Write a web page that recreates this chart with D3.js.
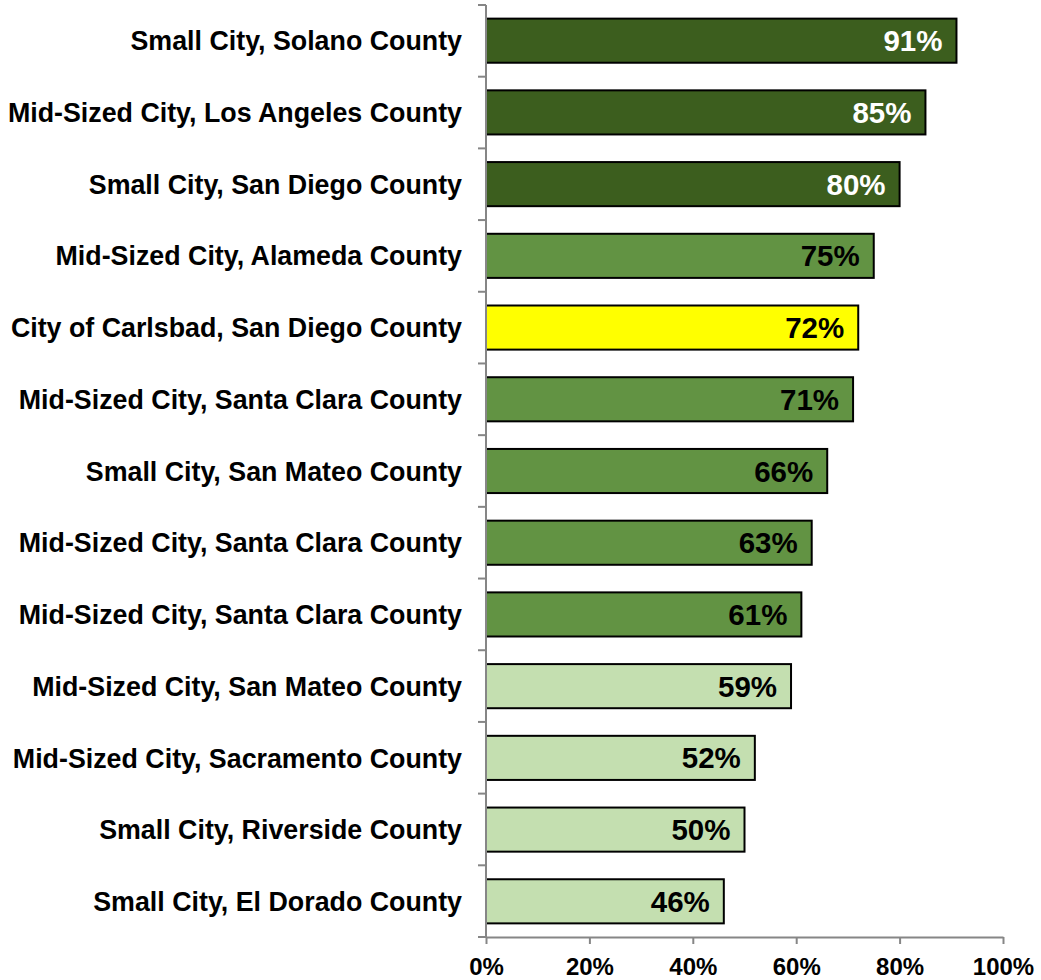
<!DOCTYPE html>
<html>
<head>
<meta charset="utf-8">
<script src="https://cdn.jsdelivr.net/npm/d3@7"></script>
<style>
  body { margin: 0; background: #fff; }
  svg text { font-family: "Liberation Sans", Arial, sans-serif; font-weight: bold; }
</style>
</head>
<body>
<svg id="chart" width="1041" height="980"></svg>
<script>
// Survey share by city, top to bottom
const categories = [
  "Small City, Solano County",
  "Mid-Sized City, Los Angeles County",
  "Small City, San Diego County",
  "Mid-Sized City, Alameda County",
  "City of Carlsbad, San Diego County",
  "Mid-Sized City, Santa Clara County",
  "Small City, San Mateo County",
  "Mid-Sized City, Santa Clara County",
  "Mid-Sized City, Santa Clara County",
  "Mid-Sized City, San Mateo County",
  "Mid-Sized City, Sacramento County",
  "Small City, Riverside County",
  "Small City, El Dorado County"
];
const values = [0.91, 0.85, 0.80, 0.75, 0.72, 0.71, 0.66, 0.63, 0.61, 0.59, 0.52, 0.50, 0.46];
// tier of each bar: 0 = top, 1 = middle, 2 = highlighted, 3 = lower
const tiers = [0, 0, 0, 1, 2, 1, 1, 1, 1, 3, 3, 3, 3];
const tickValues = [0, 0.2, 0.4, 0.6, 0.8, 1.0];

const fills = ["#3c5e1e", "#629343", "#ffff00", "#c4dfb0"];
const textFills = ["#ffffff", "#000000", "#000000", "#000000"];

const svg = d3.select("#chart");
const plotLeft = 486, plotRight = 1003, plotTop = 5, plotBottom = 937;

const x = d3.scaleLinear().domain([0, 1]).range([plotLeft, plotRight]);
const rows = d3.range(categories.length);
const y = d3.scaleBand().domain(rows).range([plotTop, plotBottom]).paddingInner(0.385).paddingOuter(0.19);

// bars
svg.append("g").selectAll("rect")
  .data(rows)
  .join("rect")
  .attr("x", x(0))
  .attr("y", i => y(i))
  .attr("width", i => x(values[i]) - x(0))
  .attr("height", y.bandwidth())
  .attr("fill", i => fills[tiers[i]])
  .attr("stroke", "#000")
  .attr("stroke-width", 2);

// value labels inside bars
svg.append("g").selectAll("text")
  .data(rows)
  .join("text")
  .attr("x", i => x(values[i]) - 14)
  .attr("y", i => y(i) + y.bandwidth() / 2)
  .attr("dy", "0.36em")
  .attr("text-anchor", "end")
  .attr("font-size", 29.5)
  .attr("fill", i => textFills[tiers[i]])
  .text(i => Math.round(values[i] * 100) + "%");

// category labels
svg.append("g").selectAll("text")
  .data(rows)
  .join("text")
  .attr("x", 462)
  .attr("y", i => y(i) + y.bandwidth() / 2)
  .attr("dy", "0.36em")
  .attr("text-anchor", "end")
  .attr("font-size", 26.8)
  .attr("fill", "#000")
  .text(i => categories[i]);

// y axis with tick marks between categories
const axisColor = "#868686";
const yBounds = d3.range(categories.length + 1).map(i => plotTop + i * (plotBottom - plotTop) / categories.length);
svg.append("line")
  .attr("x1", plotLeft).attr("x2", plotLeft)
  .attr("y1", plotTop).attr("y2", plotBottom)
  .attr("stroke", axisColor).attr("stroke-width", 2);
svg.append("g").selectAll("line")
  .data(yBounds)
  .join("line")
  .attr("x1", plotLeft - 8).attr("x2", plotLeft)
  .attr("y1", d => d).attr("y2", d => d)
  .attr("stroke", axisColor).attr("stroke-width", 2);

// x axis
const xAxis = d3.axisBottom(x)
  .tickValues(tickValues)
  .tickSize(7)
  .tickSizeOuter(0)
  .tickFormat(d3.format(".0%"));
const gx = svg.append("g")
  .attr("transform", `translate(0,${plotBottom})`)
  .call(xAxis);
gx.select(".domain").attr("stroke", axisColor).attr("stroke-width", 2);
gx.selectAll(".tick line").attr("stroke", axisColor).attr("stroke-width", 2);
gx.selectAll(".tick text")
  .attr("y", 21)
  .attr("dy", "0.71em")
  .attr("font-size", 24)
  .attr("font-family", "Liberation Sans, Arial, sans-serif")
  .attr("font-weight", "bold")
  .attr("fill", "#000");
</script>
</body>
</html>
